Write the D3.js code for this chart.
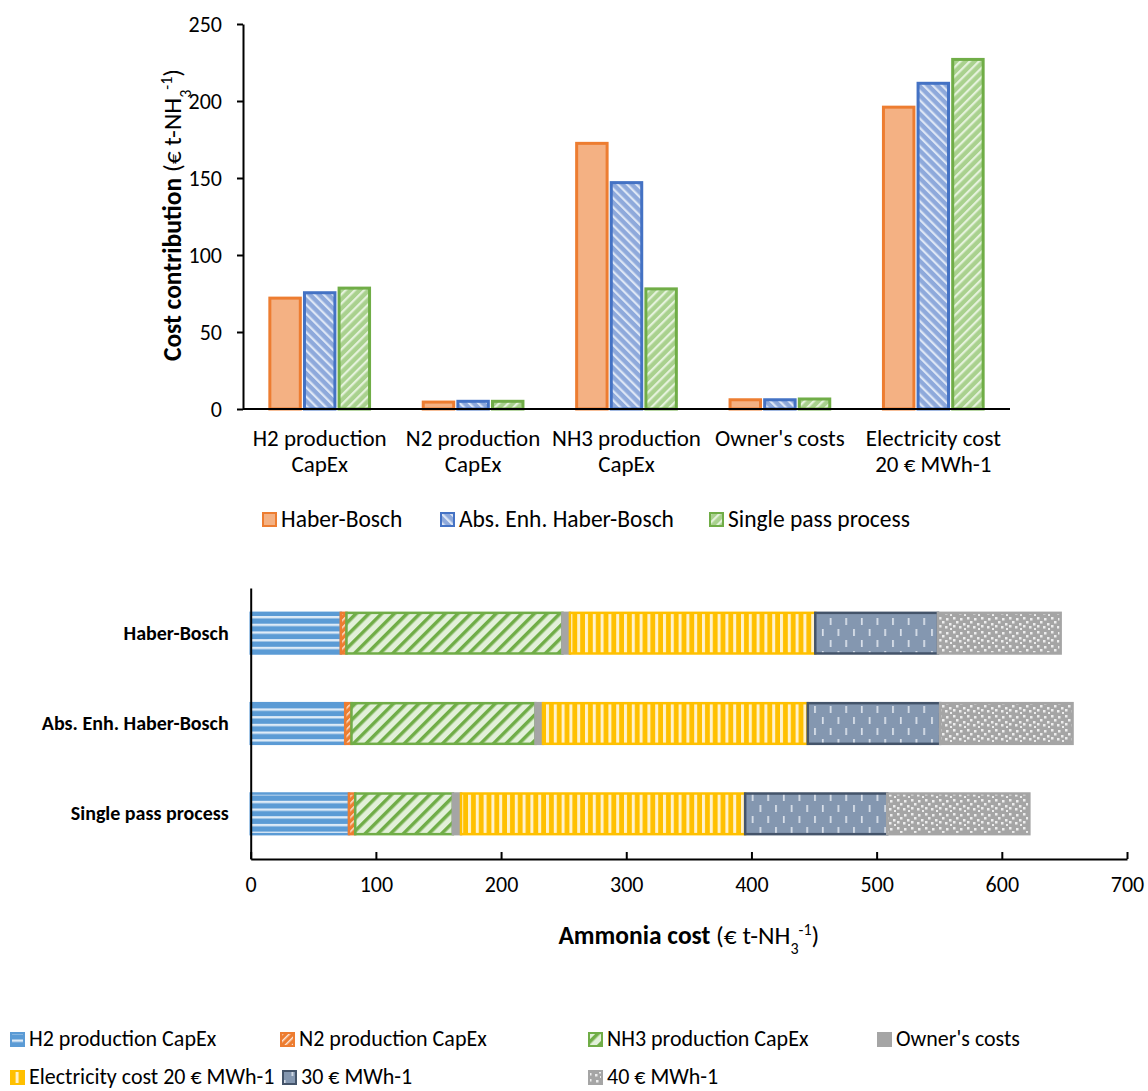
<!DOCTYPE html>
<html>
<head>
<meta charset="utf-8">
<script src="https://cdn.jsdelivr.net/npm/d3@7"></script>
<style>
  body { margin: 0; background: #fff; }
  text { font-family: Carlito, Lato, "Open Sans", sans-serif; fill: #000; }
</style>
</head>
<body>
<svg id="chart" width="1148" height="1091"></svg>
<script>
// Data (€ t-NH3-1)

const processes = ["Haber-Bosch", "Abs. Enh. Haber-Bosch", "Single pass process"];
const costItems = [
  ["H2 production", "CapEx"],
  ["N2 production", "CapEx"],
  ["NH3 production", "CapEx"],
  ["Owner's costs"],
  ["Electricity cost", "20 € MWh-1"]
];
const hbValues  = [72, 4.5, 172.5, 6, 196];
const absValues = [75.5, 5, 147, 6, 211.5];
const spValues  = [78.5, 5, 78, 6.5, 227];
// extra electricity cost going from 20 to 30 and from 30 to 40 € MWh-1
const elec30Step = [98, 105.75, 113.5];
const elec40Step = [98, 105.75, 113.5];

const stackKeys = ["H2 production CapEx", "N2 production CapEx", "NH3 production CapEx",
  "Owner's costs", "Electricity cost 20 € MWh-1", "30 € MWh-1", "40 € MWh-1"];

const yTicksTop = [0, 50, 100, 150, 200, 250];
const xTicksBottom = [0, 100, 200, 300, 400, 500, 600, 700];

// Colours

const seriesColors = [
  { fill: "url(#pHB)", stroke: "#ED7D31" },
  { fill: "url(#pAbs)", stroke: "#4472C4" },
  { fill: "url(#pSP)", stroke: "#70AD47" }
];
const stackStyle = [
  { fill: "url(#pH2)", stroke: "#5B9BD5" },
  { fill: "url(#pN2)", stroke: "#ED7D31" },
  { fill: "url(#pNH3)", stroke: "#70AD47" },
  { fill: "#A5A5A5", stroke: "#A5A5A5" },
  { fill: "url(#pE20)", stroke: "#FFC000" },
  { fill: "url(#pE30)", stroke: "#44546A" },
  { fill: "url(#pE40)", stroke: "#A5A5A5" }
];

const svg = d3.select("#chart");
const defs = svg.append("defs");

// Patterns

function stripePattern(id, bg, fg, size, stripe, angle) {
  const p = defs.append("pattern")
    .attr("id", id)
    .attr("patternUnits", "userSpaceOnUse")
    .attr("width", size).attr("height", size)
    .attr("patternTransform", "rotate(" + angle + ")");
  p.append("rect").attr("width", size).attr("height", size).attr("fill", bg);
  p.append("rect").attr("width", stripe).attr("height", size).attr("fill", fg);
}

defs.append("pattern").attr("id", "pHB")
  .attr("patternUnits", "userSpaceOnUse").attr("width", 4).attr("height", 4)
  .append("rect").attr("width", 4).attr("height", 4).attr("fill", "#F4B183");
stripePattern("pAbs", "#8EA9DB", "#DDE6F5", 6.5, 2.2, -45);
stripePattern("pSP", "#A9D18E", "#E5F2DC", 6.5, 2.2, 45);
stripePattern("pH2", "#5B9BD5", "#DEEBF7", 7.7, 2.4, 90);
stripePattern("pN2", "#ED7D31", "#FBE5D6", 5, 1.5, 45);
stripePattern("pNH3", "#E2F0D9", "#70AD47", 9, 3.5, 45);
stripePattern("pE20", "#FFC000", "#FFF2CC", 7.8, 3, 0);

const p30 = defs.append("pattern").attr("id", "pE30")
  .attr("patternUnits", "userSpaceOnUse").attr("width", 15.6).attr("height", 22);
p30.append("rect").attr("width", 15.6).attr("height", 22).attr("fill", "#8497B0");
[[3, 2], [10.8, 13]].forEach(([x, y]) => {
  p30.append("rect").attr("x", x).attr("y", y).attr("width", 1.6).attr("height", 7).attr("fill", "#E1E7EF");
});

const p40 = defs.append("pattern").attr("id", "pE40")
  .attr("patternUnits", "userSpaceOnUse").attr("width", 14).attr("height", 14);
p40.append("rect").attr("width", 14).attr("height", 14).attr("fill", "#A5A5A5");
[[1, 1], [8, 2], [4, 5], [11, 7], [1, 9], [7, 10], [12, 12]].forEach(([x, y]) => {
  p40.append("rect").attr("x", x).attr("y", y).attr("width", 2.5).attr("height", 2.5).attr("fill", "#EDEDED");
});

// ---------- Top chart: grouped bars ----------

const topSeries = [hbValues, absValues, spValues];
const catKeys = costItems.map(d => d.join(" "));

const x0 = d3.scaleBand().domain(catKeys).range([243, 1010]).paddingInner(0.35).paddingOuter(0.175);
const x1 = d3.scaleBand().domain(processes).range([0, x0.bandwidth()]).paddingInner(0.12);
const yTop = d3.scaleLinear().domain([0, 250]).range([409, 24]);

const topG = svg.append("g");

catKeys.forEach((cat, i) => {
  topG.selectAll(null)
    .data(processes)
    .enter()
    .append("rect")
    .attr("x", p => x0(cat) + x1(p))
    .attr("y", (p, s) => yTop(topSeries[s][i]))
    .attr("width", x1.bandwidth())
    .attr("height", (p, s) => yTop(0) - yTop(topSeries[s][i]))
    .attr("fill", (p, s) => seriesColors[s].fill)
    .attr("stroke", (p, s) => seriesColors[s].stroke)
    .attr("stroke-width", 3);
});

// y axis
const yAxisTop = svg.append("g")
  .attr("transform", "translate(243,0)")
  .call(d3.axisLeft(yTop).tickValues(yTicksTop).tickSizeInner(6).tickSizeOuter(0).tickPadding(15));
yAxisTop.select(".domain").attr("stroke", "#000").attr("stroke-width", 2);
yAxisTop.selectAll(".tick line").attr("stroke", "#000").attr("stroke-width", 2);
yAxisTop.selectAll(".tick text").style("font-size", "22px").attr("fill", "#000");

// x axis line
svg.append("line")
  .attr("x1", 243).attr("x2", 1010)
  .attr("y1", yTop(0)).attr("y2", yTop(0))
  .attr("stroke", "#000").attr("stroke-width", 2);

// category labels
costItems.forEach((lines, i) => {
  const t = svg.append("text")
    .attr("text-anchor", "middle")
    .style("font-size", "23px");
  lines.forEach((line, j) => {
    t.append("tspan")
      .attr("x", x0(catKeys[i]) + x0.bandwidth() / 2)
      .attr("y", 446 + j * 26)
      .text(line);
  });
});

// y title
const yTitle = svg.append("text")
  .attr("transform", "translate(181,215) rotate(-90)")
  .attr("text-anchor", "middle")
  .style("font-size", "25.5px");
yTitle.append("tspan").style("font-weight", "bold").text("Cost contribution ");
yTitle.append("tspan").text("(€ t-NH");
yTitle.append("tspan").attr("baseline-shift", "sub").style("font-size", "16px").text("3");
yTitle.append("tspan").attr("baseline-shift", "super").style("font-size", "16px").text("-1");
yTitle.append("tspan").text(")");

// top legend
const topLegendX = [262, 440, 709];
processes.forEach((p, s) => {
  svg.append("rect")
    .attr("x", topLegendX[s] + 1).attr("y", 513)
    .attr("width", 13).attr("height", 13)
    .attr("fill", seriesColors[s].fill)
    .attr("stroke", seriesColors[s].stroke)
    .attr("stroke-width", 2);
  svg.append("text")
    .attr("x", topLegendX[s] + 19).attr("y", 527)
    .style("font-size", "23.5px")
    .text(p);
});

// ---------- Bottom chart: stacked bars ----------

const stackRows = processes.map((p, k) => {
  const vals = [hbValues, absValues, spValues][k];
  const row = { process: p };
  stackKeys.forEach((key, j) => {
    row[key] = j < 5 ? vals[j] : (j === 5 ? elec30Step[k] : elec40Step[k]);
  });
  return row;
});

const stacked = d3.stack().keys(stackKeys)(stackRows);

const xBot = d3.scaleLinear().domain([0, 700]).range([250.7, 1127]);
const yBot = d3.scaleBand().domain(processes).range([588, 859]).paddingInner(0.55).paddingOuter(0.275);

const botG = svg.append("g");
stacked.forEach((layer, j) => {
  botG.selectAll(null)
    .data(layer)
    .enter()
    .append("rect")
    .attr("x", d => xBot(d[0]))
    .attr("y", d => yBot(d.data.process))
    .attr("width", d => xBot(d[1]) - xBot(d[0]))
    .attr("height", yBot.bandwidth())
    .attr("fill", stackStyle[j].fill)
    .attr("stroke", stackStyle[j].stroke)
    .attr("stroke-width", 2.5);
});

// x axis
const xAxisBot = svg.append("g")
  .attr("transform", "translate(0,859)")
  .call(d3.axisBottom(xBot).tickValues(xTicksBottom).tickSizeInner(-7).tickSizeOuter(0).tickPadding(17));
xAxisBot.select(".domain").attr("stroke", "#000").attr("stroke-width", 2);
xAxisBot.selectAll(".tick line").attr("stroke", "#000").attr("stroke-width", 2);
xAxisBot.selectAll(".tick text").style("font-size", "22px").attr("fill", "#000");

// y axis
const yAxisBot = svg.append("g")
  .attr("transform", "translate(250.7,0)")
  .call(d3.axisLeft(yBot).tickSize(0).tickPadding(22));
yAxisBot.select(".domain").attr("stroke", "#000").attr("stroke-width", 2);
yAxisBot.selectAll(".tick text").style("font-size", "20px").style("font-weight", "bold").attr("fill", "#000");

// x title
const xTitle = svg.append("text")
  .attr("x", (xBot(0) + xBot(700)) / 2).attr("y", 944)
  .attr("text-anchor", "middle")
  .style("font-size", "25.5px");
xTitle.append("tspan").style("font-weight", "bold").text("Ammonia cost ");
xTitle.append("tspan").text("(€ t-NH");
xTitle.append("tspan").attr("baseline-shift", "sub").style("font-size", "16px").text("3");
xTitle.append("tspan").attr("baseline-shift", "super").style("font-size", "16px").text("-1");
xTitle.append("tspan").text(")");

// bottom legend
const botLegendPos = [[10, 1040], [280, 1040], [588, 1040], [877, 1040], [10, 1078], [282, 1078], [588, 1078]];
stackKeys.forEach((key, j) => {
  const [lx, ly] = botLegendPos[j];
  svg.append("rect")
    .attr("x", lx + 1).attr("y", ly - 7)
    .attr("width", 13).attr("height", 13)
    .attr("fill", stackStyle[j].fill)
    .attr("stroke", stackStyle[j].stroke)
    .attr("stroke-width", 2);
  svg.append("text")
    .attr("x", lx + 19).attr("y", ly + 6)
    .style("font-size", "22px")
    .text(key);
});
</script>
</body>
</html>
